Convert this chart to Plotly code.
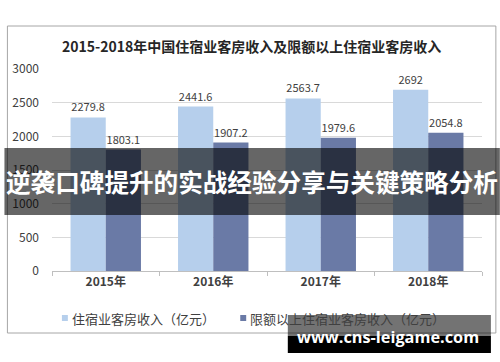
import plotly.graph_objects as go

years = ["2015年", "2016年", "2017年", "2018年"]
total_income = [2279.8, 2441.6, 2563.7, 2692]
above_quota_income = [1803.1, 1907.2, 1979.6, 2054.8]
series_names = ["住宿业客房收入（亿元）", "限额以上住宿业客房收入（亿元）"]
series_colors = ["#B6CFEC", "#6A7AA6"]
title_text = "2015-2018年中国住宿业客房收入及限额以上住宿业客房收入"
banner_text = "逆袭口碑提升的实战经验分享与关键策略分析"
watermark_text = "www.cns-leigame.com"

W, H = 500, 362
L, R, T, B = 48, 18, 69, 91
PW, PH = W - L - R, H - T - B

def px(x):
    return (x - L) / PW

def py(y):
    return (H - B - y) / PH

FONT = "Noto Sans CJK SC"
fig = go.Figure()
for name, vals, col in zip(series_names, [total_income, above_quota_income], series_colors):
    fig.add_trace(go.Bar(
        x=years, y=vals, name=name,
        marker=dict(color=col, line=dict(width=0)),
        text=[f"{v:g}" for v in vals], textposition="outside",
        textfont=dict(size=11, color="#404040"), cliponaxis=False,
    ))

shapes = [
    dict(type="rect", xref="paper", yref="paper", x0=px(3), x1=px(496), y0=py(333), y1=py(26),
         line=dict(color="#A6A6A6", width=1), fillcolor="rgba(0,0,0,0)", layer="below"),
]
annotations = [
    dict(text=f"<b>{title_text}</b>", xref="paper", yref="paper", x=px(249), y=py(46),
         showarrow=False, font=dict(size=14, color="#262626", family=FONT), xanchor="center", yanchor="middle"),
]

# custom legend
leg_marker_x = [58, 238]
for name, col, mx in zip(series_names, series_colors, leg_marker_x):
    shapes.append(dict(type="rect", xref="paper", yref="paper", x0=px(mx), x1=px(mx + 6),
                       y0=py(321), y1=py(315), line=dict(width=0), fillcolor=col))
    annotations.append(dict(text=name, xref="paper", yref="paper", x=px(mx + 8), y=py(318),
                            showarrow=False, xanchor="left", yanchor="middle",
                            font=dict(size=13, color="#404040", family=FONT)))

# overlays
shapes += [
    dict(type="rect", xref="paper", yref="paper", x0=px(0), x1=px(500), y0=py(215), y1=py(148),
         line=dict(width=0), fillcolor="rgba(0,0,0,0.6)", layer="above"),
    dict(type="rect", xref="paper", yref="paper", x0=px(286), x1=px(491), y0=py(336), y1=py(315),
         line=dict(width=0), fillcolor="rgba(0,0,0,0.55)", layer="above"),
    dict(type="rect", xref="paper", yref="paper", x0=px(286), x1=px(491), y0=py(353), y1=py(336),
         line=dict(width=0), fillcolor="#000000", layer="above"),
]
annotations += [
    dict(text=f"<b>{banner_text}</b>", xref="paper", yref="paper", x=px(250), y=py(181),
         showarrow=False, font=dict(size=24.6, color="#FFFFFF", family=FONT), xanchor="center", yanchor="middle"),
    dict(text=f"<b>{watermark_text}</b>", xref="paper", yref="paper", x=px(387), y=py(337),
         showarrow=False, font=dict(size=16.3, color="#FFFFFF", family="Open Sans"), xanchor="center", yanchor="middle"),
]

fig.update_layout(
    width=W, height=H,
    margin=dict(l=L, r=R, t=T, b=B),
    paper_bgcolor="white", plot_bgcolor="white",
    font=dict(family=FONT, color="#404040"),
    barmode="group", bargap=0.345, bargroupgap=0,
    showlegend=False,
    shapes=shapes, annotations=annotations,
    xaxis=dict(showline=True, linecolor="#BFBFBF", ticks="outside", tickson="boundaries",
               ticklen=4, tickcolor="#BFBFBF",
               tickfont=dict(size=12, color="#404040", family=FONT), showgrid=False,
               tickprefix="<b>", ticksuffix="</b>"),
    yaxis=dict(range=[0, 3000], dtick=500, showgrid=True, gridcolor="#D9D9D9", gridwidth=1,
               zeroline=False, showline=False, ticks="",
               tickfont=dict(size=12, color="#404040", family=FONT), ticklabelstandoff=12),
)
fig.write_html("out.html")
